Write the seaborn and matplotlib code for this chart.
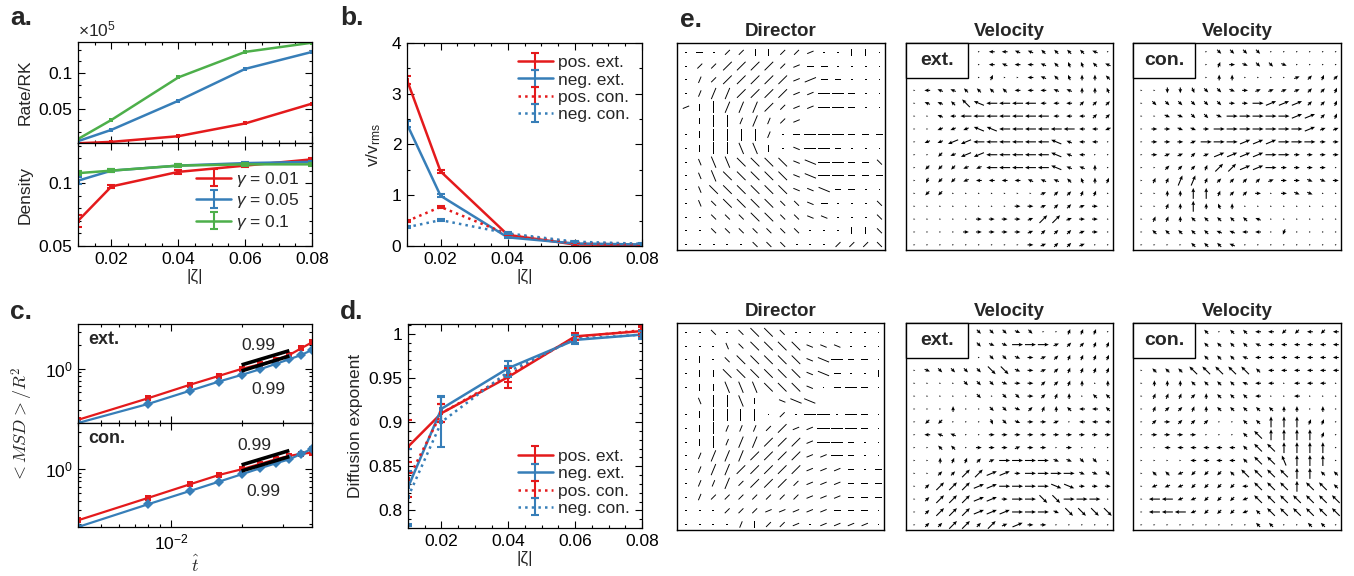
import numpy as np
import matplotlib
matplotlib.use("Agg")
import matplotlib.pyplot as plt
import seaborn as sns
from matplotlib.patches import Rectangle
from matplotlib.ticker import MultipleLocator, FixedLocator, LogLocator, NullFormatter

sns.set_theme(style="ticks")
plt.rcParams['font.family'] = ['Liberation Sans', 'DejaVu Sans']
plt.rcParams['mathtext.fontset'] = 'custom'
plt.rcParams['mathtext.rm'] = 'Liberation Sans'
plt.rcParams['mathtext.it'] = 'Liberation Sans:italic'
plt.rcParams['mathtext.bf'] = 'Liberation Sans:bold'

RED = "#e41a1c"
BLUE = "#377eb8"
GREEN = "#4daf4a"

# ---------------- data ----------------
zeta = [0.01, 0.02, 0.04, 0.06, 0.08]

# (a) event rate (x 1e5) and defect density for three gamma values
gamma_labels = [r"$\gamma$ = 0.01", r"$\gamma$ = 0.05", r"$\gamma$ = 0.1"]
rate_g001 = [0.001, 0.003, 0.011, 0.029, 0.057]
rate_g005 = [0.004, 0.020, 0.061, 0.106, 0.130]
rate_g01 = [0.007, 0.034, 0.094, 0.130, 0.143]
dens_g001 = [0.0700, 0.0974, 0.1090, 0.1140, 0.1190]
dens_g005 = [0.1020, 0.1100, 0.1140, 0.1160, 0.1170]
dens_g01 = [0.1080, 0.1100, 0.1140, 0.1150, 0.1150]
dens_err_g001 = [0.0050, 0.0015, 0.0015, 0.0010, 0.0012]
dens_err_g005 = [0.0030, 0.0010, 0.0010, 0.0010, 0.0010]
dens_err_g01 = [0.0015, 0.0010, 0.0010, 0.0010, 0.0010]

# (b) defect speed
series_labels = ["pos. ext.", "neg. ext.", "pos. con.", "neg. con."]
speed_pos_ext = [3.27, 1.47, 0.22, 0.03, 0.02]
speed_neg_ext = [2.40, 0.99, 0.17, 0.05, 0.03]
speed_pos_con = [0.49, 0.77, 0.23, 0.065, 0.03]
speed_neg_con = [0.37, 0.51, 0.25, 0.085, 0.045]
speed_err_pos_ext = [0.08, 0.03, 0.02, 0.01, 0.01]
speed_err_neg_ext = [0.06, 0.03, 0.02, 0.01, 0.01]
speed_err_pos_con = [0.02, 0.02, 0.02, 0.01, 0.01]
speed_err_neg_con = [0.02, 0.02, 0.02, 0.01, 0.01]

# (c) mean squared displacement vs time
t_hat = [0.004, 0.008, 0.012, 0.016, 0.020, 0.024, 0.028, 0.032, 0.036, 0.040]
msd_ext_pos = [0.223, 0.422, 0.625, 0.814, 1.00, 1.147, 1.303, 1.51, 1.84, 2.19]
msd_ext_neg = [0.203, 0.357, 0.524, 0.689, 0.838, 0.99, 1.16, 1.33, 1.51, 1.75]
msd_con_pos = [0.225, 0.435, 0.643, 0.846, 1.00, 1.17, 1.34, 1.48, 1.57, 1.63]
msd_con_neg = [0.185, 0.361, 0.529, 0.696, 0.863, 1.03, 1.19, 1.34, 1.57, 1.82]
fit_t = [0.020, 0.032]
fit_ext_upper = [1.125, 1.714]
fit_ext_lower = [0.943, 1.465]
fit_con_upper = [1.136, 1.730]
fit_con_lower = [0.952, 1.450]
fit_exponents = ["0.99", "0.99"]

# (d) diffusion exponent
diff_pos_ext = [0.872, 0.910, 0.951, 0.997, 1.003]
diff_neg_ext = [0.826, 0.915, 0.961, 0.993, 0.999]
diff_pos_con = [0.835, 0.910, 0.953, 0.996, 1.004]
diff_neg_con = [0.815, 0.900, 0.957, 0.994, 0.999]
diff_err_pos_ext = [0.030, 0.010, 0.012, 0.004, 0.006]
diff_err_neg_ext = [0.044, 0.015, 0.008, 0.005, 0.005]
diff_err_pos_con = [0.020, 0.010, 0.008, 0.003, 0.004]
diff_err_neg_con = [0.030, 0.028, 0.006, 0.004, 0.004]

# (e) director / velocity fields around defects, one character per grid node.
# director: a..h = 0..157.5 deg (axial); velocity: a..p = 0..337.5 deg.
# upper case = long, lower case = short, '.' = near zero.
director_ext = [
    ".a.cceeccb..ee.",
    ".ccCCCCcbaa....",
    ".dcCCCCCbBaa...",
    ".dDDCCCCbbAAa..",
    "beEDDDCcbbAAa..",
    ".eEEdDdcbAAAa..",
    ".eEEEEd.aAAAaaa",
    ".eEEFFe.hAAa...",
    ".fFFGGGGhHAAaag",
    ".fFGGGGGhHAAaaa",
    ".fGGGGGGhhHaa..",
    ".fgGGGGggha...g",
    "..gggGGgghh...g",
    "..ggggggg...eeg",
    ".....ggg...cccg",
]
director_con = [
    "..g.gGGg.......",
    "...fgGGGGhhh...",
    ".e.gGGGGGhHAaa.",
    ".eeGGGGGGhHa..e",
    ".eeFFFGGGh.aAa.",
    ".fEEFe.hHHa.Aa.",
    ".eEEEE.c.AA.Aa.",
    ".eEdddcCbbAAAa.",
    ".eEdDDCCCbAAa..",
    ".dDDDCCCCbbAa..",
    ".dDDCCCCCbbba.a",
    ".ddDcCCCcbbbaaa",
    ".dcccccccbbbaaa",
    "...cccbbbbbaaa.",
    "....deccb.bbbb.",
]
velocity_ext_top = [
    "......iihhggggh.",
    "......ihiihgffgh",
    "......d..ihgfeeg",
    ".ihhggggiiihheef",
    ".hhgGHIIIIiiiccc",
    "..hiIIIIIIIiiicc",
    "..jjjHHIIIIIIiij",
    ".jjJJIIIIIIHhii.",
    "..kjJJIIIIIHhi..",
    ".kkkjjIIIIIHhhe.",
    ".lkkjiiiihhhgfed",
    ".kk.......bccdd.",
    "........aabccba.",
    ".....aaaabCCbaa.",
    "....aaaaabcccba.",
    ".........abccb..",
]
velocity_con_top = [
    "......oooo......",
    "......dapoop....",
    "......ee....bcdc",
    "..mmnoopabbbbccd",
    ".ooooooaaABBBccd",
    "..ppoopAAAAABBcd",
    ".aappaAAAAAAABbb",
    ".aaabAAABBBAAAaa",
    ".abbcbBBBBAAaaaa",
    "..cccdCCBBAaaaa.",
    ".ddDDdccccbaappa",
    "..eeEEdcca.app..",
    "..deEefe........",
    ".ddegggggh......",
    ".ggggghhii.l....",
    "....gggh........",
]
velocity_ext_bot = [
    ".....ooopo..ddd.",
    ".....oppAAAbccdd",
    "......oopabcdddd",
    ".pooooOOpabcdddd",
    "....ooopaaccde.e",
    ".....o.ooacde.gg",
    "...e..oopcdegiig",
    ".kk...nopaab.iii",
    ".ihh..aaaaaaaaaa",
    "..gg.aaabaa.a...",
    "..eddcbAAAAppoo.",
    "..ccCCBBaAAAAppo",
    ".cCCCBBAAAAPPaaa",
    ".cCCCBBaAAOOAAA.",
    ".cCCCBBBAAApOOOO",
    ".ccCCcCbBaa.....",
]
velocity_con_bot = [
    ".....g.ggiikkiki",
    ".....gggghiiiiii",
    ".....ggghiiiiiii",
    ".gggGGGGGgiiiiii",
    ".eeegggghii.iii.",
    ".dddcegggi..i...",
    ".dccdegggggee.e.",
    ".caccc..ggEEEdd.",
    ".aaaa...gGEEEEd.",
    "..iiiiiigGGEEEE.",
    "....iiiigGGFEEE.",
    ".ggjkkkgGGGGEEgg",
    ".jjjkkkkiGGGEGGg",
    ".IIjjkkkjGGGGGGG",
    ".IIIjkkkjgGGGGGG",
    ".........gg..gg.",
]

# ---------------- figure ----------------
W, H = 1354, 576
fig = plt.figure(figsize=(W / 100, H / 100), dpi=100, facecolor="white")


def add_axes(left, top, right, bottom):
    return fig.add_axes([left / W, 1 - bottom / H, (right - left) / W, (bottom - top) / H])


def style(ax, labelsize=12.5):
    ax.set_facecolor("white")
    for s in ax.spines.values():
        s.set_visible(True)
        s.set_color("black")
        s.set_linewidth(0.9)
    ax.tick_params(which="both", direction="in", top=True, right=True,
                   colors="black", labelsize=labelsize, width=0.8, pad=4)
    ax.tick_params(which="major", length=5)
    ax.tick_params(which="minor", length=2.5)


def zeta_axis(ax, labels=True):
    ax.set_xlim(0.01, 0.08)
    ax.xaxis.set_major_locator(FixedLocator([0.02, 0.04, 0.06, 0.08]))
    ax.xaxis.set_minor_locator(MultipleLocator(0.005))
    if labels:
        ax.set_xticklabels(["0.02", "0.04", "0.06", "0.08"])
    else:
        ax.set_xticklabels([])


def err_series(ax, y, yerr, color, ls, label=None):
    sns.lineplot(x=zeta, y=y, ax=ax, color=color, linewidth=1.8, linestyle=ls,
                 legend=False, marker="s", markersize=2.5, markeredgewidth=0)
    ax.errorbar(zeta, y, yerr=yerr, fmt="none", ecolor=color, elinewidth=1.5,
                capsize=3, capthick=1.5)
    # legend proxy (drawn at NaN, so invisible on the axes)
    return ax.errorbar([np.nan], [np.nan], yerr=[np.nan], fmt=ls, color=color,
                       lw=1.8, elinewidth=1.5, capsize=3, capthick=1.5, label=label)


# ---- (a) ----
axa1 = add_axes(78, 42, 312, 143)
style(axa1)
for vals, c in zip([rate_g001, rate_g005, rate_g01], [RED, BLUE, GREEN]):
    sns.lineplot(x=zeta, y=vals, ax=axa1, color=c, linewidth=1.8, legend=False,
                 marker="s", markersize=2.5, markeredgewidth=0)
zeta_axis(axa1, labels=False)
axa1.set_ylim(0.0014, 0.144)
axa1.yaxis.set_major_locator(FixedLocator([0.05, 0.1]))
axa1.set_yticklabels(["0.05", "0.1"])
axa1.yaxis.set_minor_locator(MultipleLocator(0.05 / 3))
axa1.set_ylabel("Rate/RK", fontsize=12.5, labelpad=4)
axa1.text(0.0, 1.03, r"$\times 10^5$", transform=axa1.transAxes, fontsize=12.5,
          ha="left", va="bottom")

axa2 = add_axes(78, 143, 312, 246)
style(axa2)
handles = []
for vals, errs, c, lab in zip([dens_g001, dens_g005, dens_g01],
                              [dens_err_g001, dens_err_g005, dens_err_g01],
                              [RED, BLUE, GREEN], gamma_labels):
    handles.append(err_series(axa2, vals, errs, c, "-", lab))
zeta_axis(axa2)
axa2.set_ylim(0.05, 0.132)
axa2.yaxis.set_major_locator(FixedLocator([0.05, 0.1]))
axa2.set_yticklabels(["0.05", "0.1"])
axa2.yaxis.set_minor_locator(MultipleLocator(0.01))
axa2.set_ylabel("Density", fontsize=12.5, labelpad=4)
axa2.set_xlabel("|ζ|", fontsize=12.5, labelpad=2)
axa2.legend(handles=handles, loc="lower right", frameon=False, fontsize=12.5,
            handlelength=2.0, handletextpad=0.3, labelspacing=0.15,
            borderaxespad=0.3, bbox_to_anchor=(1.0, 0.02))

# ---- (b) ----
axb = add_axes(407, 43, 642, 246)
style(axb)
handles = []
for vals, errs, c, ls, lab in zip(
        [speed_pos_ext, speed_neg_ext, speed_pos_con, speed_neg_con],
        [speed_err_pos_ext, speed_err_neg_ext, speed_err_pos_con, speed_err_neg_con],
        [RED, BLUE, RED, BLUE], ["-", "-", ":", ":"], series_labels):
    handles.append(err_series(axb, vals, errs, c, ls, lab))
zeta_axis(axb)
axb.set_ylim(0, 4)
axb.yaxis.set_major_locator(MultipleLocator(1))
axb.yaxis.set_minor_locator(MultipleLocator(0.5))
axb.set_ylabel(r"v/v$_{\rm rms}$", fontsize=12.5, labelpad=6)
axb.set_xlabel("|ζ|", fontsize=12.5, labelpad=2)
axb.legend(handles=handles, loc="upper right", frameon=False, fontsize=12.5,
           handlelength=2.0, handletextpad=0.3, labelspacing=0.12,
           borderaxespad=0.3)

# ---- (c) ----
def msd_axes(top, bottom, pos, neg, up, lo, tag, ylim, show_x):
    ax = add_axes(78, top, 312, bottom)
    style(ax)
    ax.set_xscale("log")
    ax.set_yscale("log")
    sns.lineplot(x=t_hat, y=pos, ax=ax, color=RED, linewidth=1.6, marker="s",
                 markersize=5, markeredgewidth=0, legend=False)
    sns.lineplot(x=t_hat, y=neg, ax=ax, color=BLUE, linewidth=1.6, marker="D",
                 markersize=5, markeredgewidth=0, legend=False)
    ax.plot(fit_t, up, color="black", lw=2.6, solid_capstyle="butt")
    ax.plot(fit_t, lo, color="black", lw=2.6, solid_capstyle="butt")
    ax.set_xlim(0.004, 0.04)
    ax.set_ylim(*ylim)
    ax.xaxis.set_major_locator(FixedLocator([0.01]))
    ax.xaxis.set_minor_locator(LogLocator(base=10, subs=np.arange(2, 10)))
    ax.xaxis.set_minor_formatter(NullFormatter())
    ax.yaxis.set_major_locator(FixedLocator([1.0]))
    ax.yaxis.set_minor_locator(LogLocator(base=10, subs=np.arange(2, 10)))
    ax.yaxis.set_minor_formatter(NullFormatter())
    ax.set_yticklabels([r"$10^{0}$"])
    if show_x:
        ax.set_xticklabels([r"$10^{-2}$"])
    else:
        ax.set_xticklabels([])
    ax.text(0.045, 0.93, tag, transform=ax.transAxes, fontsize=13,
            fontweight="bold", ha="left", va="top")
    return ax


axc1 = msd_axes(324, 423, msd_ext_pos, msd_ext_neg, fit_ext_upper, fit_ext_lower,
                "ext.", (0.203, 3.76), False)
axc2 = msd_axes(423, 527, msd_con_pos, msd_con_neg, fit_con_upper, fit_con_lower,
                "con.", (0.185, 3.87), True)
fig.text(258 / W, 1 - 346 / H, fit_exponents[0], fontsize=12.5, ha="center", va="center")
fig.text(268 / W, 1 - 390 / H, fit_exponents[1], fontsize=12.5, ha="center", va="center")
fig.text(254 / W, 1 - 446 / H, fit_exponents[0], fontsize=12.5, ha="center", va="center")
fig.text(263 / W, 1 - 491 / H, fit_exponents[1], fontsize=12.5, ha="center", va="center")
axc2.set_xlabel(r"$\hat{t}$", fontsize=13, labelpad=2, math_fontfamily="cm")
fig.text(22 / W, 1 - 425 / H, r"$<MSD>/R^2$", rotation=90, fontsize=13,
         ha="center", va="center", math_fontfamily="cm")

# ---- (d) ----
axd = add_axes(408, 324, 642, 528)
style(axd)
handles = []
for vals, errs, c, ls, lab in zip(
        [diff_pos_ext, diff_neg_ext, diff_pos_con, diff_neg_con],
        [diff_err_pos_ext, diff_err_neg_ext, diff_err_pos_con, diff_err_neg_con],
        [RED, BLUE, RED, BLUE], ["-", "-", ":", ":"], series_labels):
    handles.append(err_series(axd, vals, errs, c, ls, lab))
zeta_axis(axd)
axd.set_ylim(0.78, 1.011)
axd.yaxis.set_major_locator(FixedLocator([0.8, 0.85, 0.9, 0.95, 1.0]))
axd.set_yticklabels(["0.8", "0.85", "0.9", "0.95", "1"])
axd.yaxis.set_minor_locator(MultipleLocator(0.01))
axd.set_ylabel("Diffusion exponent", fontsize=12.5, labelpad=4)
axd.set_xlabel("|ζ|", fontsize=12.5, labelpad=2)
axd.legend(handles=handles, loc="lower right", frameon=False, fontsize=12.5,
           handlelength=2.0, handletextpad=0.3, labelspacing=0.12,
           borderaxespad=0.3)

# ---- (e) ----
def decode(rows, headless):
    letters = "abcdefgh" if headless else "abcdefghijklmnop"
    step = 22.5
    X, Y, U, V = [], [], [], []
    n = len(rows)
    for i, row in enumerate(rows):
        for j, ch in enumerate(row):
            if ch == ".":
                ang, L = 0.0, 0.14
            else:
                ang = letters.index(ch.lower()) * step
                L = (0.88 if headless else 0.85) if ch.isupper() else (0.5 if headless else 0.45)
            X.append(j)
            Y.append(n - 1 - i)
            U.append(L * np.cos(np.radians(ang)))
            V.append(L * np.sin(np.radians(ang)))
    return np.array(X), np.array(Y), np.array(U), np.array(V)


def field_axes(left, top, right, bottom, rows, headless, title=None, tag=None):
    ax = add_axes(left, top, right, bottom)
    X, Y, U, V = decode(rows, headless)
    n = len(rows)
    m = max(len(r) for r in rows)
    if headless:
        ax.quiver(X, Y, U, V, angles="xy", scale_units="xy", scale=1, pivot="middle",
                  color="black", width=0.0045, headwidth=0, headlength=0,
                  headaxislength=0, antialiased=True)
    else:
        ax.quiver(X, Y, U, V, angles="xy", scale_units="xy", scale=1, pivot="middle",
                  color="black", width=0.0052, headwidth=3.5, headlength=4,
                  headaxislength=3.5, minlength=0.5)
    ax.set_xlim(-0.65, m - 1 + 0.4)
    ax.set_ylim(-0.4, n - 1 + 0.68)
    ax.set_xticks([])
    ax.set_yticks([])
    ax.set_facecolor("white")
    for s in ax.spines.values():
        s.set_visible(True)
        s.set_color("black")
        s.set_linewidth(1.0)
    if title:
        ax.set_title(title, fontsize=13.5, fontweight="bold", pad=5)
    if tag:
        ax.add_patch(Rectangle((0, 1 - 0.17), 0.30, 0.17, transform=ax.transAxes,
                               facecolor="white", edgecolor="black", lw=1.0,
                               zorder=5, clip_on=False))
        ax.text(0.15, 1 - 0.085, tag, transform=ax.transAxes, fontsize=14,
                fontweight="bold", ha="center", va="center", zorder=6)
    return ax


field_axes(677, 43, 885, 250, director_ext, True, title="Director")
field_axes(906, 43, 1113, 250, velocity_ext_top, False, title="Velocity", tag="ext.")
field_axes(1133, 43, 1341, 250, velocity_con_top, False, title="Velocity", tag="con.")
field_axes(677, 323, 884, 530, director_con, True, title="Director")
field_axes(906, 323, 1113, 530, velocity_ext_bot, False, title="Velocity", tag="ext.")
field_axes(1133, 323, 1341, 530, velocity_con_bot, False, title="Velocity", tag="con.")

# panel letters
for txt, x, y in [("a.", 10, 18), ("b.", 340, 18), ("c.", 10, 312),
                  ("d.", 340, 312), ("e.", 680, 20)]:
    fig.text(x / W, 1 - y / H, txt, fontsize=19, fontweight="bold",
             ha="left", va="center")

fig.savefig("out.png", dpi=100, facecolor="white")
